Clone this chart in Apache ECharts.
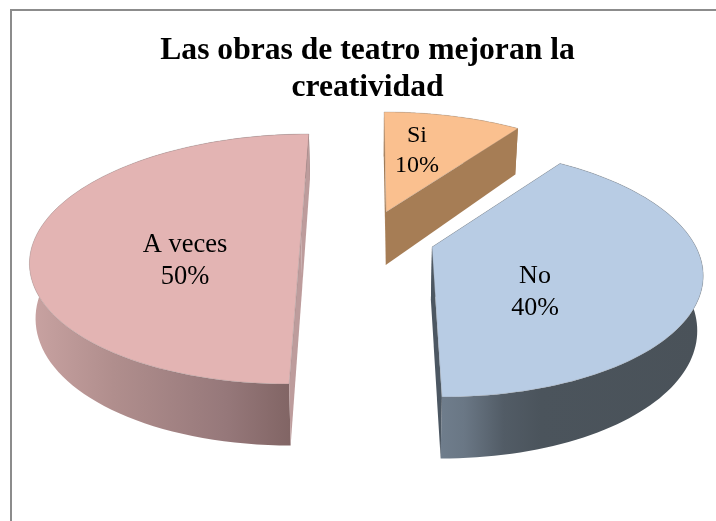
<!DOCTYPE html>
<html><head><meta charset="utf-8">
<style>html,body{margin:0;padding:0;background:#fff}#c{width:716px;height:521px}</style>
<script src="https://cdn.jsdelivr.net/npm/echarts@6/dist/echarts.min.js"></script>
</head><body><div id="c"></div>
<script>
const categories = ['Si', 'No', 'A veces'];
const values = [10, 40, 50];
const titleLines = ['Las obras de teatro mejoran la', 'creatividad'];

// projection of the tilted disc
const A = 264, B = 120, P = 0.2, VX = 371;
const looks = [
  {c:[386,212], skew:0.02,  top:'#FAC08F', cut:'#A67D55', wall:[[0,'#A8805A'],[1,'#A67D55']], label:[417,151], size:24},
  {c:[432,247], skew:0.066, top:'#B8CCE4', cut:'#4C5762', wall:[[0,'#6F7D8C'],[0.09,'#6A7785'],[0.24,'#525C66'],[0.38,'#4B545C'],[1,'#4A5259']], label:[535,292], size:26},
  {c:[301,234], skew:-0.079,top:'#E3B4B3', cut:'#BD9C9C', wall:[[0,'#C9A3A2'],[0.3,'#B08E8D'],[0.7,'#96787A'],[1,'#7B5F5E']], label:[185,261], size:26.5}
];
const total = values.reduce((a,b)=>a+b,0);
function pt(l, th){
  const u=Math.sin(th), v=Math.cos(th), k=1/(1+P*v);
  const dy=-B*v*k;
  return [l.c[0]+A*u*k+l.skew*dy, l.c[1]+dy, v];
}
function pc(l){ return [l.c[0], l.c[1], 0]; }
function drop(p){
  const d=53-8.5*p[2];
  return [p[0]+(VX-p[0])*0.018, p[1]+d];
}
function xy(p){return [p[0],p[1]];}
function renderItem(params, api){
  const i=params.dataIndex, l=looks[i];
  let s=0; for(let j=0;j<i;j++) s+=values[j];
  const a0=s/total*2*Math.PI, a1=(s+api.value(0))/total*2*Math.PI;
  const arc=[]; const n=90;
  for(let j=0;j<=n;j++) arc.push(pt(l,a0+(a1-a0)*j/n));
  const ctr=pc(l);
  const top=[xy(ctr)].concat(arc.map(xy));
  const wall=arc.map(xy).concat(arc.slice().reverse().map(drop));
  const face=(p)=>[xy(ctr),xy(p),drop(p),drop(ctr)];
  const edge='rgba(120,120,120,0.25)';
  return {type:'group',children:[
    {type:'polygon',shape:{points:wall},style:{fill:{type:'linear',x:0,y:0,x2:1,y2:0,colorStops:l.wall.map(w=>({offset:w[0],color:w[1]}))}}},
    {type:'polygon',shape:{points:face(arc[0])},style:{fill:l.cut}},
    {type:'polygon',shape:{points:face(arc[n])},style:{fill:l.cut}},
    {type:'polygon',shape:{points:top},style:{fill:l.top,stroke:edge,lineWidth:1}},
    {type:'text',style:{x:l.label[0],y:l.label[1],text:categories[i]+'\n'+Math.round(api.value(0)/total*100)+'%',
      font:l.size+'px "Liberation Serif"',lineHeight:l.size===24?30:32,fill:'#000',align:'center',verticalAlign:'middle'}}
  ]};
}
const chart=echarts.init(document.getElementById('c'),null,{renderer:'canvas'});
chart.setOption({
  animation:false,
  backgroundColor:'#fff',
  title:{text:titleLines.join('\n'),left:367.5,textAlign:'center',top:32,padding:0,
    textStyle:{fontFamily:'Liberation Serif',fontWeight:'bold',fontSize:31.6,lineHeight:37,color:'#000'}},
  graphic:[{type:'rect',z:-1,shape:{x:11,y:10,width:800,height:640},style:{fill:'#fff',stroke:'#8C8C8C',lineWidth:2}}],
  series:[{type:'custom',coordinateSystem:'none',renderItem,data:values.map(v=>[v]),silent:true}]
});
</script></body></html>
